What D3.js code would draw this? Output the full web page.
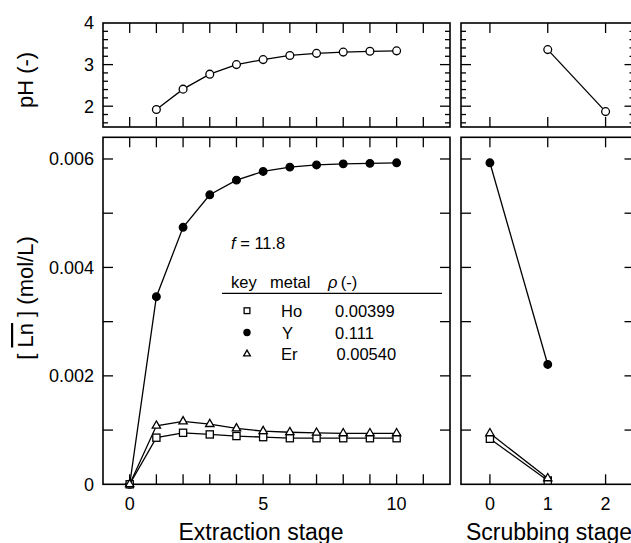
<!DOCTYPE html>
<html>
<head>
<meta charset="utf-8">
<script src="https://cdn.jsdelivr.net/npm/d3@7"></script>
<style>
body { margin: 0; background: #fff; }
text { font-family: "Liberation Sans", Arial, sans-serif; fill: #000; }
</style>
</head>
<body>
<svg id="chart"></svg>
<script>
// stages
const extStages = [0, 1, 2, 3, 4, 5, 6, 7, 8, 9, 10];
const phExtStages = [1, 2, 3, 4, 5, 6, 7, 8, 9, 10];
const scrubStages = [0, 1];
const phScrubStages = [1, 2];

// pH values
const phExt = [1.92, 2.41, 2.77, 3.00, 3.12, 3.22, 3.27, 3.30, 3.32, 3.33];
const phScrub = [3.36, 1.87];

// organic concentration (mol/L)
const yExt = [0, 0.00346, 0.00474, 0.00534, 0.00561, 0.00577, 0.00585, 0.00589, 0.00591, 0.00592, 0.00593];
const hoExt = [0, 0.00086, 0.00095, 0.00092, 0.00089, 0.00087, 0.00085, 0.00085, 0.00085, 0.00085, 0.00085];
const erExt = [0, 0.00108, 0.00116, 0.00111, 0.00103, 0.00098, 0.00096, 0.00095, 0.00094, 0.00094, 0.00094];
const yScrub = [0.00593, 0.00221];
const hoScrub = [0.00084, 0.00007];
const erScrub = [0.00094, 0.00011];

// legend
const legendKeys = ["square", "circle", "triangle"];
const legendMetals = ["Ho", "Y", "Er"];
const legendRho = ["0.00399", "0.111", "0.00540"];

// tick labels
const extTickLabels = [0, 5, 10];
const scrubTickLabels = [0, 1, 2];
const phTickLabels = [2, 3, 4];
const concTickLabels = [0, 0.002, 0.004, 0.006];

const WIDTH = 631, HEIGHT = 543;
const svg = d3.select('#chart').attr('width', WIDTH).attr('height', HEIGHT);

// scales
const xExt = d3.scaleLinear().domain([-1, 12]).range([103, 450]);
const xScr = d3.scaleLinear().domain([-0.5, 2.5]).range([461, 634.5]);
const yPh = d3.scaleLinear().domain([1.5, 4]).range([127, 23]);
const yConc = d3.scaleLinear().domain([0, 0.0064]).range([484.3, 137.3]);

const MAJOR = 10, MINOR = 5;

function frame(x, y) {
  const [x0, x1] = x.range(), [y0, y1] = y.range();
  svg.append('rect')
    .attr('x', x0).attr('y', y1)
    .attr('width', x1 - x0).attr('height', y0 - y1)
    .attr('fill', 'none').attr('stroke', '#000').attr('stroke-width', 1.6);
}

function xTicks(x, y, vals) {
  const [y0, y1] = y.range();
  const g = svg.append('g').attr('stroke', '#000').attr('stroke-width', 1.3);
  vals.forEach(v => {
    g.append('line').attr('x1', x(v)).attr('x2', x(v)).attr('y1', y0).attr('y2', y0 - MAJOR);
    g.append('line').attr('x1', x(v)).attr('x2', x(v)).attr('y1', y1).attr('y2', y1 + MAJOR);
  });
}

function yTicks(x, y, vals, len) {
  const [x0, x1] = x.range();
  const g = svg.append('g').attr('stroke', '#000').attr('stroke-width', 1.3);
  vals.forEach(v => {
    g.append('line').attr('x1', x0).attr('x2', x0 + len).attr('y1', y(v)).attr('y2', y(v));
    g.append('line').attr('x1', x1).attr('x2', x1 - len).attr('y1', y(v)).attr('y2', y(v));
  });
}

// frames + ticks
const panels = [[xExt, yPh], [xScr, yPh], [xExt, yConc], [xScr, yConc]];
panels.forEach(([x, y]) => frame(x, y));

const extInt = d3.range(0, 12);
const scrInt = [0, 1, 2];
xTicks(xExt, yPh, extInt);
xTicks(xExt, yConc, extInt);
xTicks(xScr, yPh, scrInt);
xTicks(xScr, yConc, scrInt);

const phMajor = [2, 3];
const phMinor = d3.range(16, 40, 2).map(d => d / 10).filter(d => !phMajor.includes(d));
const concT = d3.range(1, 7).map(d => d / 1000);
[xExt, xScr].forEach(x => {
  yTicks(x, yPh, phMajor, MAJOR);
  yTicks(x, yPh, phMinor, MINOR);
  yTicks(x, yConc, concT, MAJOR);
});

// tick labels
const lab = svg.append('g').style('font-size', '18px');
phTickLabels.forEach(v => lab.append('text').text(v)
  .attr('x', 94).attr('y', yPh(v)).attr('dy', '0.35em').attr('text-anchor', 'end'));
concTickLabels.forEach(v => lab.append('text').text(v === 0 ? '0' : v.toFixed(3))
  .attr('x', 94).attr('y', yConc(v)).attr('dy', '0.35em').attr('text-anchor', 'end'));
extTickLabels.forEach(v => lab.append('text').text(v)
  .attr('x', xExt(v)).attr('y', 509.5).attr('text-anchor', 'middle'));
scrubTickLabels.forEach(v => lab.append('text').text(v)
  .attr('x', xScr(v)).attr('y', 509.5).attr('text-anchor', 'middle'));

// axis titles
svg.append('text').text('Extraction stage').style('font-size', '23px')
  .attr('x', 261).attr('y', 539.5).attr('text-anchor', 'middle');
svg.append('text').text('Scrubbing stage').style('font-size', '23px')
  .attr('x', 549).attr('y', 539.5).attr('text-anchor', 'middle');
svg.append('text').text('pH (-)').style('font-size', '22px')
  .attr('text-anchor', 'middle')
  .attr('transform', 'translate(33,80) rotate(-90)');
const yl = svg.append('text').style('font-size', '22px')
  .attr('text-anchor', 'middle')
  .attr('transform', 'translate(33,298) rotate(-90)');
yl.append('tspan').text('[ ');
yl.append('tspan').text('Ln').style('text-decoration', 'overline');
yl.append('tspan').text(' ] (mol/L)');

// series
function series(x, y, xs, ys, shape, filled) {
  const pts = xs.map((d, i) => [x(d), y(ys[i])]);
  svg.append('path').attr('d', d3.line()(pts))
    .attr('fill', 'none').attr('stroke', '#000').attr('stroke-width', 1.3);
  marks(pts, shape, filled, 1);
}

function marks(pts, shape, filled, k) {
  pts.forEach(([px, py]) => {
    let m;
    if (shape === 'circle') {
      m = svg.append('circle').attr('cx', px).attr('cy', py).attr('r', (filled ? 3.8 : 3.9) * k);
    } else if (shape === 'square') {
      const s = 7.2 * k;
      m = svg.append('rect').attr('x', px - s / 2).attr('y', py - s / 2).attr('width', s).attr('height', s);
    } else {
      m = svg.append('path').attr('transform', `translate(${px},${py})`)
        .attr('d', d3.symbol(d3.symbolTriangle, 30 * k * k)());
    }
    m.attr('fill', filled ? '#000' : '#fff').attr('stroke', '#000').attr('stroke-width', 1.3);
  });
}

series(xExt, yPh, phExtStages, phExt, 'circle', false);
series(xScr, yPh, phScrubStages, phScrub, 'circle', false);

series(xExt, yConc, extStages, yExt, 'circle', true);
series(xExt, yConc, extStages, hoExt, 'square', false);
series(xExt, yConc, extStages, erExt, 'triangle', false);
series(xScr, yConc, scrubStages, yScrub, 'circle', true);
series(xScr, yConc, scrubStages, hoScrub, 'square', false);
series(xScr, yConc, scrubStages, erScrub, 'triangle', false);

// annotation + legend
const ft = svg.append('text').style('font-size', '16.5px').attr('x', 231).attr('y', 249);
ft.append('tspan').text('f').style('font-style', 'italic');
ft.append('tspan').text(' = 11.8');

const lg = svg.append('g').style('font-size', '16.5px');
lg.append('text').text('key').attr('x', 231).attr('y', 288);
lg.append('text').text('metal').attr('x', 270).attr('y', 288);
const rh = lg.append('text').attr('x', 328).attr('y', 288);
rh.append('tspan').text('\u03c1').style('font-style', 'italic');
rh.append('tspan').text('\u2009(-)');
lg.append('line').attr('x1', 222).attr('x2', 442).attr('y1', 293.3).attr('y2', 293.3)
  .attr('stroke', '#000').attr('stroke-width', 1.3);

const rowY = [316.7, 338.5, 360];
legendKeys.forEach((k, i) => {
  marks([[247, rowY[i] - 6]], k, k === 'circle', 0.8);
  lg.append('text').text(legendMetals[i]).attr('x', i === 1 ? 282 : 281).attr('y', rowY[i]);
  lg.append('text').text(legendRho[i]).attr('x', i === 2 ? 336.5 : 335).attr('y', rowY[i]);
});
</script>
</body>
</html>
